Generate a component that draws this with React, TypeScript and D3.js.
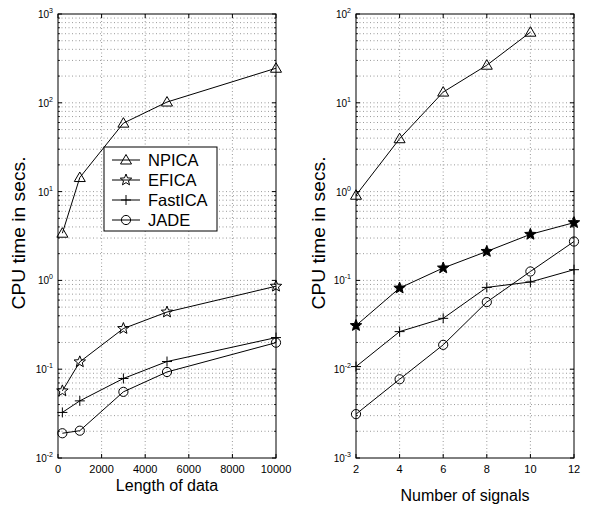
import React from "react";
import * as d3 from "d3";

const seriesNames = ["NPICA", "EFICA", "FastICA", "JADE"];
const markers = ["triangle", "star", "plus", "circle"];

const leftX = [200, 1000, 3000, 5000, 10000];
const leftNPICA = [3.4, 14.4, 59, 102, 245];
const leftEFICA = [0.057, 0.121, 0.287, 0.44, 0.86];
const leftFastICA = [0.0326, 0.044, 0.0786, 0.122, 0.227];
const leftJADE = [0.019, 0.0203, 0.0556, 0.093, 0.199];

const rightX = [2, 4, 6, 8, 10, 12];
const rightNPICA = [0.91, 3.94, 13.2, 26.5, 62.4, null];
const rightEFICA = [0.031, 0.082, 0.138, 0.212, 0.33, 0.447];
const rightFastICA = [0.0107, 0.0265, 0.0374, 0.0834, 0.096, 0.132];
const rightJADE = [0.00312, 0.0077, 0.0188, 0.057, 0.126, 0.274];

const leftXTicks = [0, 2000, 4000, 6000, 8000, 10000];
const rightXTicks = [2, 4, 6, 8, 10, 12];
const leftYExp = [-2, -1, 0, 1, 2, 3];
const rightYExp = [-3, -2, -1, 0, 1, 2];

const FONT = "Liberation Sans, Arial, Helvetica, sans-serif";

function starPath(r: number, ri: number) {
  const pts: string[] = [];
  for (let i = 0; i < 10; i++) {
    const a = -Math.PI / 2 + (i * Math.PI) / 5;
    const rr = i % 2 === 0 ? r : ri;
    pts.push(`${(rr * Math.cos(a)).toFixed(2)},${(rr * Math.sin(a)).toFixed(2)}`);
  }
  return "M" + pts.join("L") + "Z";
}

function Marker({ type, x, y, filledStar }: { type: string; x: number; y: number; filledStar?: boolean }) {
  if (type === "triangle") {
    return <path d="M0,-5.5L5.5,4L-5.5,4Z" transform={`translate(${x},${y})`} fill="none" stroke="#000" strokeWidth={1} />;
  }
  if (type === "star") {
    return (
      <path d={starPath(6, 2.6)} transform={`translate(${x},${y})`} fill={filledStar ? "#000" : "none"} stroke="#000" strokeWidth={1} />
    );
  }
  if (type === "plus") {
    return <path d="M-5,0H5M0,-5V5" transform={`translate(${x},${y})`} fill="none" stroke="#000" strokeWidth={1} />;
  }
  return <circle cx={x} cy={y} r={4.6} fill="none" stroke="#000" strokeWidth={1} />;
}

function Panel({
  x0, x1, xDomain, xTicks, yExp, xs, series, filledStar, xLabel, xLabelY, yLabelX, legend,
}: any) {
  const top = 14, bottom = 458;
  const xs_ = d3.scaleLinear().domain(xDomain).range([x0, x1]);
  const ys = d3.scaleLog().domain([Math.pow(10, yExp[0]), Math.pow(10, yExp[yExp.length - 1])]).range([bottom, top]);
  const minors: number[] = [];
  for (let e = yExp[0]; e < yExp[yExp.length - 1]; e++) {
    for (let m = 2; m <= 9; m++) minors.push(m * Math.pow(10, e));
  }
  const majors = yExp.map((e: number) => Math.pow(10, e));
  const line = d3.line<any>().defined((d) => d[1] != null).x((d) => xs_(d[0])).y((d) => ys(d[1]));
  const grid = { stroke: "#555", strokeWidth: 0.6, strokeDasharray: "1,2.5" };
  return (
    <g>
      {xTicks.slice(1, -1).map((t: number) => (
        <line key={"gx" + t} x1={xs_(t)} x2={xs_(t)} y1={top} y2={bottom} {...grid} />
      ))}
      {[...minors, ...majors.slice(1, -1)].map((v: number, i: number) => (
        <line key={"gy" + i} x1={x0} x2={x1} y1={ys(v)} y2={ys(v)} {...grid} />
      ))}
      <rect x={x0} y={top} width={x1 - x0} height={bottom - top} fill="none" stroke="#000" strokeWidth={1} />
      {xTicks.map((t: number) => (
        <g key={"tx" + t}>
          <line x1={xs_(t)} x2={xs_(t)} y1={bottom} y2={bottom - 4} stroke="#000" />
          <line x1={xs_(t)} x2={xs_(t)} y1={top} y2={top + 4} stroke="#000" />
          <text x={xs_(t)} y={473} textAnchor="middle" fontSize={11} fontFamily={FONT}>{t}</text>
        </g>
      ))}
      {majors.map((v: number) => (
        <g key={"ty" + v}>
          <line x1={x0} x2={x0 + 4} y1={ys(v)} y2={ys(v)} stroke="#000" />
          <line x1={x1} x2={x1 - 4} y1={ys(v)} y2={ys(v)} stroke="#000" />
        </g>
      ))}
      {minors.map((v: number, i: number) => (
        <g key={"tm" + i}>
          <line x1={x0} x2={x0 + 2} y1={ys(v)} y2={ys(v)} stroke="#000" strokeWidth={0.8} />
          <line x1={x1} x2={x1 - 2} y1={ys(v)} y2={ys(v)} stroke="#000" strokeWidth={0.8} />
        </g>
      ))}
      {yExp.map((e: number) => (
        <text key={"yl" + e} x={x0 - 5} y={ys(Math.pow(10, e)) + 4} textAnchor="end" fontSize={10} fontFamily={FONT}>
          10<tspan dy={-5} fontSize={7}>{e}</tspan>
        </text>
      ))}
      {series.map((s: any[], i: number) => {
        const pts = xs.map((x: number, j: number) => [x, s[j]]);
        return (
          <g key={"s" + i}>
            <path d={line(pts) || ""} fill="none" stroke="#000" strokeWidth={1} />
            {pts.filter((p: any) => p[1] != null).map((p: any, j: number) => (
              <Marker key={j} type={markers[i]} x={xs_(p[0])} y={ys(p[1])} filledStar={filledStar} />
            ))}
          </g>
        );
      })}
      <text x={(x0 + x1) / 2} y={xLabelY} textAnchor="middle" fontSize={16} fontFamily={FONT}>{xLabel}</text>
      <text
        transform={`translate(${yLabelX},233) rotate(-90)`}
        textAnchor="middle" fontSize={17.5} fontFamily={FONT}
        textLength={153} lengthAdjust="spacingAndGlyphs"
      >
        CPU time in secs.
      </text>
      {legend && (
        <g>
          <rect x={104} y={147} width={113} height={84} fill="#fff" stroke="#000" strokeWidth={1} />
          {seriesNames.map((n, i) => {
            const y = 160 + i * 20;
            return (
              <g key={n}>
                <line x1={112} x2={140} y1={y} y2={y} stroke="#000" />
                <Marker type={markers[i]} x={126} y={y} />
                <text x={148} y={y + 6} fontSize={16.5} fontFamily={FONT}>{n}</text>
              </g>
            );
          })}
        </g>
      )}
    </g>
  );
}

export default function App() {
  return (
    <svg width={595} height={507} style={{ position: "absolute", left: 0, top: 0, background: "#fff" }}>
      <rect width={595} height={507} fill="#fff" />
      <Panel
        x0={58} x1={276} xDomain={[0, 10000]} xTicks={leftXTicks} yExp={leftYExp} xs={leftX}
        series={[leftNPICA, leftEFICA, leftFastICA, leftJADE]} filledStar={false}
        xLabel="Length of data" xLabelY={491} yLabelX={25} legend
      />
      <Panel
        x0={356} x1={574} xDomain={[2, 12]} xTicks={rightXTicks} yExp={rightYExp} xs={rightX}
        series={[rightNPICA, rightEFICA, rightFastICA, rightJADE]} filledStar
        xLabel="Number of signals" xLabelY={501} yLabelX={325}
      />
    </svg>
  );
}
